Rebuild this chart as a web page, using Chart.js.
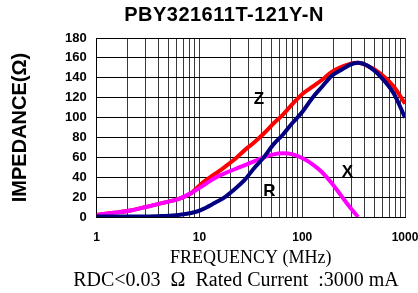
<!DOCTYPE html>
<html>
<head>
<meta charset="utf-8">
<style>
  html, body { margin: 0; padding: 0; background: #fff; }
  #wrap { width: 418px; height: 293px; }
</style>
<script src="https://cdn.jsdelivr.net/npm/chart.js@4"></script>
</head>
<body>
<div id="wrap"><canvas id="impChart" width="418" height="293"></canvas></div>
<script>
// impedance vs frequency, PBY321611T-121Y-N

var freqMHz = [1, 1.4, 2, 3, 4.3, 6.2, 8.3, 10.3, 14, 17.7, 22, 27.4, 34, 42.3, 52.5, 65, 81, 101, 126, 156, 194, 241, 290, 350, 433, 580, 780, 1000];
var zValues = [2, 4, 6, 10, 14, 18, 24, 33, 43, 50.5, 58, 67, 75, 84, 94, 103, 114, 124, 131, 138, 146, 151, 154, 155, 152, 144, 131, 114];
var rValues = [0.5, 0.5, 0.5, 0.5, 1, 2, 4, 7, 14, 20, 28, 37, 49, 60, 73, 83, 95, 106, 120, 131, 142, 148, 153, 155, 152, 141, 124, 100];
var xValues = [2, 4, 6, 10, 14, 18, 24, 30, 39, 44, 48, 52, 56, 60, 63, 64, 63, 59, 53, 45, 34, 21, 10, 0, null, null, null, null];

var xGridTicks = [1, 2, 3, 4, 5, 6, 7, 8, 9, 10, 20, 30, 40, 50, 60, 70, 80, 90, 100, 200, 300, 400, 500, 600, 700, 800, 900, 1000];
var xTickLabels = [1, 10, 100, 1000];

var curveNames = ['Z', 'R', 'X'];
var curveNameFreq = [38, 48, 276];
var curveNameImp = [118, 26, 45];

var chartTitle = 'PBY321611T-121Y-N';
var noteText = 'RDC<0.03  \u03A9  Rated Current  :3000 mA';

function toPoints(vals) {
    return freqMHz.map(function (f, i) { return { x: f, y: vals[i] }; });
}

var curveLabelPlugin = {
    id: 'curveLabels',
    afterDatasetsDraw: function (chart) {
        var ctx = chart.ctx;
        var xs = chart.scales.x, ys = chart.scales.y;
        ctx.save();
        ctx.fillStyle = '#000';
        ctx.font = 'bold 17px "Liberation Sans", Arial, sans-serif';
        ctx.textAlign = 'center';
        ctx.textBaseline = 'middle';
        curveNames.forEach(function (n, i) {
            ctx.fillText(n, xs.getPixelForValue(curveNameFreq[i]), ys.getPixelForValue(curveNameImp[i]));
        });
        ctx.restore();
    }
};

// title and the RDC note are not centred on the canvas, so place them by hand
var captionPlugin = {
    id: 'captions',
    afterDraw: function (chart) {
        var ctx = chart.ctx;
        ctx.save();
        ctx.fillStyle = '#000';
        ctx.textAlign = 'center';
        ctx.textBaseline = 'middle';
        ctx.font = 'bold 20px "Liberation Sans", Arial, sans-serif';
        if ('letterSpacing' in ctx) ctx.letterSpacing = '0.5px';
        ctx.fillText(chartTitle, 224, 15);
        if ('letterSpacing' in ctx) ctx.letterSpacing = '0px';
        ctx.font = '20px "Liberation Serif", "Times New Roman", serif';
        ctx.fillText(noteText, 236, 281);
        ctx.restore();
    }
};

var lineStyle = { borderWidth: 4, pointRadius: 0, tension: 0.3, cubicInterpolationMode: 'monotone', fill: false, spanGaps: false };

new Chart(document.getElementById('impChart').getContext('2d'), {
    type: 'line',
    data: {
        datasets: [
            Object.assign({ label: 'R', data: toPoints(rValues), borderColor: '#000080' }, lineStyle),
            Object.assign({ label: 'X', data: toPoints(xValues), borderColor: '#FF00FF' }, lineStyle),
            Object.assign({ label: 'Z', data: toPoints(zValues), borderColor: '#FF0000' }, lineStyle)
        ]
    },
    options: {
        responsive: false,
        animation: false,
        layout: { padding: { top: 38, bottom: 23, left: 0, right: 0 } },
        plugins: {
            legend: { display: false },
            tooltip: { enabled: false }
        },
        scales: {
            x: {
                type: 'logarithmic',
                min: 1,
                max: 1000,
                afterBuildTicks: function (scale) {
                    scale.ticks = xGridTicks.map(function (v) { return { value: v }; });
                },
                afterFit: function (scale) {
                    scale.height = 53;
                    scale.paddingRight = 13;
                },
                grid: { color: '#3a3a3a', lineWidth: 1, drawTicks: false },
                border: { color: '#000', width: 1 },
                ticks: {
                    autoSkip: false,
                    maxRotation: 0,
                    padding: 13,
                    color: '#000',
                    font: { family: '"Liberation Sans", Arial, sans-serif', size: 12, weight: 'bold' },
                    callback: function (value) {
                        return xTickLabels.indexOf(value) >= 0 ? String(value) : '';
                    }
                },
                title: {
                    display: true,
                    text: 'FREQUENCY (MHz)',
                    color: '#000',
                    font: { family: '"Liberation Serif", "Times New Roman", serif', size: 18 },
                    padding: { top: 0, bottom: 1 }
                }
            },
            y: {
                min: 0,
                max: 180,
                grid: { color: '#000', lineWidth: 1, drawTicks: false },
                border: { color: '#000', width: 1 },
                ticks: {
                    stepSize: 20,
                    autoSkip: false,
                    padding: 10,
                    color: '#000',
                    font: { family: '"Liberation Sans", Arial, sans-serif', size: 13, weight: 'bold' }
                },
                title: {
                    display: true,
                    text: 'IMPEDANCE(\u03A9)',
                    color: '#000',
                    font: { family: '"Liberation Sans", Arial, sans-serif', size: 20, weight: 'bold' },
                    padding: { top: 8, bottom: 23 }
                }
            }
        }
    },
    plugins: [curveLabelPlugin, captionPlugin]
});
</script>
</body>
</html>
